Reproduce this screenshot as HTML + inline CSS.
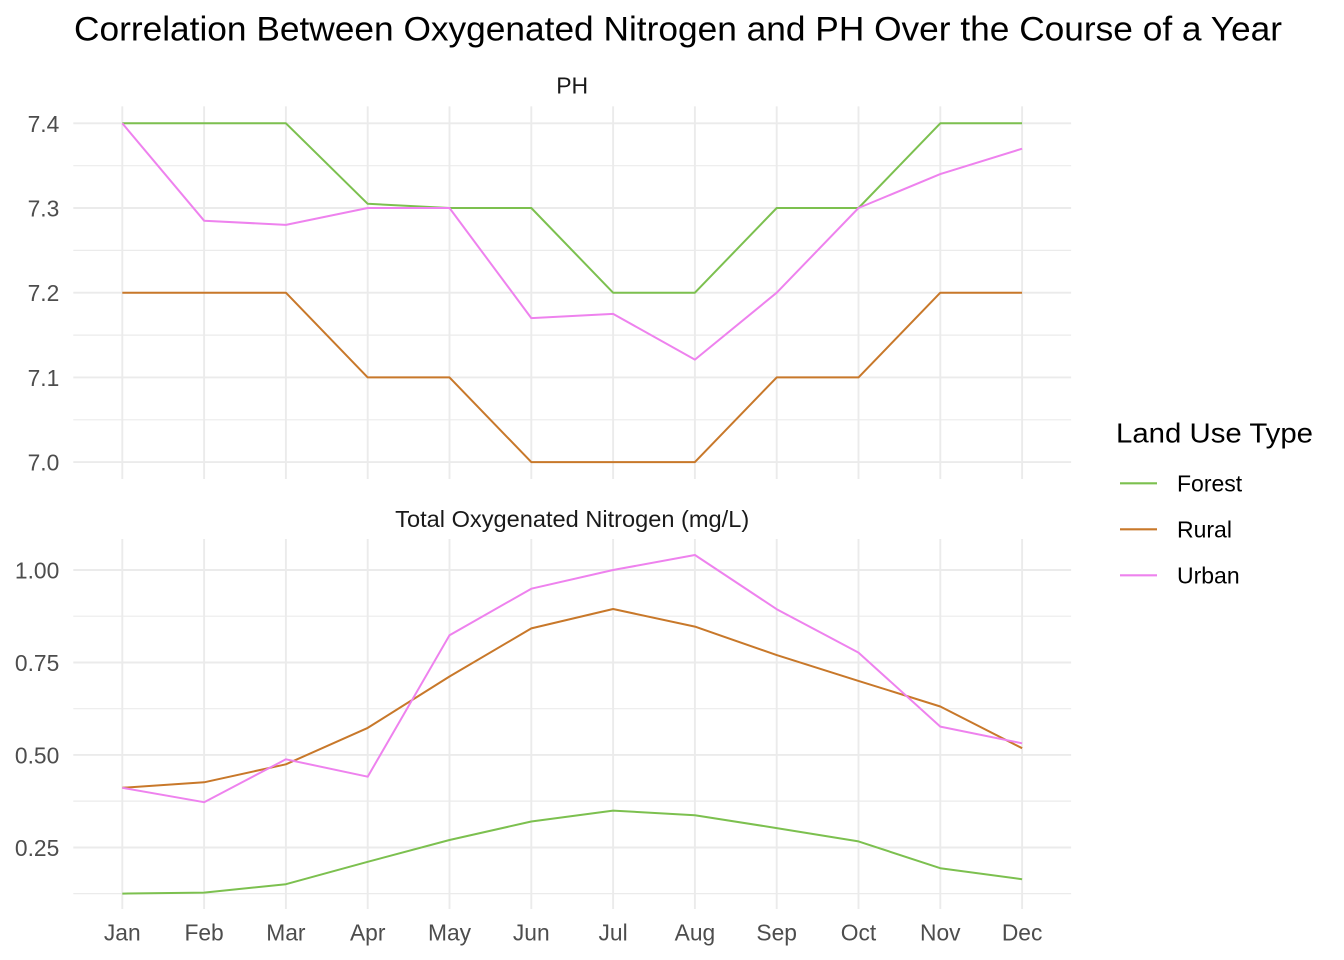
<!DOCTYPE html>
<html>
<head>
<meta charset="utf-8">
<style>
  html, body { margin: 0; padding: 0; background: #ffffff; }
  svg { display: block; }
  text { font-family: "Liberation Sans", Arial, Helvetica, sans-serif; }
</style>
</head>
<body>
<svg width="1344" height="960" viewBox="0 0 1344 960" xmlns="http://www.w3.org/2000/svg">
  <rect x="0" y="0" width="1344" height="960" fill="#ffffff"/>

  <!-- Title -->
  <text x="74" y="40.7" font-size="34" fill="#000000" textLength="1208" lengthAdjust="spacingAndGlyphs">Correlation Between Oxygenated Nitrogen and PH Over the Course of a Year</text>

  <!-- Strip labels -->
  <text x="572.2" y="93.3" font-size="23" fill="#1A1A1A" text-anchor="middle">PH</text>
  <text x="572.2" y="527" font-size="23" fill="#1A1A1A" text-anchor="middle" textLength="354" lengthAdjust="spacingAndGlyphs">Total Oxygenated Nitrogen (mg/L)</text>

  <!-- ===== Top panel grid ===== -->
  <g stroke="#EBEBEB" fill="none">
    <!-- minor -->
    <g stroke-width="1.2">
      <line x1="73.3" y1="165.7" x2="1071.1" y2="165.7"/>
      <line x1="73.3" y1="250.4" x2="1071.1" y2="250.4"/>
      <line x1="73.3" y1="335.1" x2="1071.1" y2="335.1"/>
      <line x1="73.3" y1="419.8" x2="1071.1" y2="419.8"/>
    </g>
    <!-- major -->
    <g stroke-width="1.9">
      <line x1="73.3" y1="123.3" x2="1071.1" y2="123.3"/>
      <line x1="73.3" y1="208" x2="1071.1" y2="208"/>
      <line x1="73.3" y1="292.7" x2="1071.1" y2="292.7"/>
      <line x1="73.3" y1="377.4" x2="1071.1" y2="377.4"/>
      <line x1="73.3" y1="462.1" x2="1071.1" y2="462.1"/>
      <line x1="122.3" y1="106.4" x2="122.3" y2="479"/>
      <line x1="204.1" y1="106.4" x2="204.1" y2="479"/>
      <line x1="285.9" y1="106.4" x2="285.9" y2="479"/>
      <line x1="367.7" y1="106.4" x2="367.7" y2="479"/>
      <line x1="449.5" y1="106.4" x2="449.5" y2="479"/>
      <line x1="531.3" y1="106.4" x2="531.3" y2="479"/>
      <line x1="613.1" y1="106.4" x2="613.1" y2="479"/>
      <line x1="694.9" y1="106.4" x2="694.9" y2="479"/>
      <line x1="776.7" y1="106.4" x2="776.7" y2="479"/>
      <line x1="858.5" y1="106.4" x2="858.5" y2="479"/>
      <line x1="940.3" y1="106.4" x2="940.3" y2="479"/>
      <line x1="1022.1" y1="106.4" x2="1022.1" y2="479"/>
    </g>
  </g>

  <!-- ===== Bottom panel grid ===== -->
  <g stroke="#EBEBEB" fill="none">
    <g stroke-width="1.2">
      <line x1="73.3" y1="616.2" x2="1071.1" y2="616.2"/>
      <line x1="73.3" y1="708.7" x2="1071.1" y2="708.7"/>
      <line x1="73.3" y1="801.1" x2="1071.1" y2="801.1"/>
      <line x1="73.3" y1="893.6" x2="1071.1" y2="893.6"/>
    </g>
    <g stroke-width="1.9">
      <line x1="73.3" y1="570" x2="1071.1" y2="570"/>
      <line x1="73.3" y1="662.5" x2="1071.1" y2="662.5"/>
      <line x1="73.3" y1="754.9" x2="1071.1" y2="754.9"/>
      <line x1="73.3" y1="847.5" x2="1071.1" y2="847.5"/>
      <line x1="122.3" y1="539" x2="122.3" y2="909"/>
      <line x1="204.1" y1="539" x2="204.1" y2="909"/>
      <line x1="285.9" y1="539" x2="285.9" y2="909"/>
      <line x1="367.7" y1="539" x2="367.7" y2="909"/>
      <line x1="449.5" y1="539" x2="449.5" y2="909"/>
      <line x1="531.3" y1="539" x2="531.3" y2="909"/>
      <line x1="613.1" y1="539" x2="613.1" y2="909"/>
      <line x1="694.9" y1="539" x2="694.9" y2="909"/>
      <line x1="776.7" y1="539" x2="776.7" y2="909"/>
      <line x1="858.5" y1="539" x2="858.5" y2="909"/>
      <line x1="940.3" y1="539" x2="940.3" y2="909"/>
      <line x1="1022.1" y1="539" x2="1022.1" y2="909"/>
    </g>
  </g>

  <!-- ===== Top panel series (PH) ===== -->
  <g fill="none" stroke-width="2" stroke-linejoin="round" stroke-linecap="butt">
    <polyline stroke="#7CC04F" points="122.3,123.3 204.1,123.3 285.9,123.3 367.7,203.8 449.5,208 531.3,208 613.1,292.7 694.9,292.7 776.7,208 858.5,208 940.3,123.3 1022.1,123.3"/>
    <polyline stroke="#C8782A" points="122.3,292.7 204.1,292.7 285.9,292.7 367.7,377.4 449.5,377.4 531.3,462.1 613.1,462.1 694.9,462.1 776.7,377.4 858.5,377.4 940.3,292.7 1022.1,292.7"/>
    <polyline stroke="#EE82EE" points="122.3,123.3 204.1,220.7 285.9,224.9 367.7,208 449.5,208 531.3,318.1 613.1,313.9 694.9,359.6 776.7,292.7 858.5,208 940.3,174.1 1022.1,148.7"/>
  </g>

  <!-- ===== Bottom panel series (Nitrogen) ===== -->
  <g fill="none" stroke-width="2" stroke-linejoin="round" stroke-linecap="butt">
    <polyline stroke="#7CC04F" points="122.3,893.6 204.1,892.6 285.9,884.2 367.7,861.8 449.5,840 531.3,821.5 613.1,810.6 694.9,815.2 776.7,828.1 858.5,841.4 940.3,868.2 1022.1,879.2"/>
    <polyline stroke="#C8782A" points="122.3,787.8 204.1,782.3 285.9,764.3 367.7,727.9 449.5,676.5 531.3,628.4 613.1,609 694.9,626.6 776.7,655.1 858.5,680.9 940.3,706.5 1022.1,748.2"/>
    <polyline stroke="#EE82EE" points="122.3,787.8 204.1,802.2 285.9,759.3 367.7,776.7 449.5,635.3 531.3,588.7 613.1,570 694.9,555 776.7,609.2 858.5,652.6 940.3,726.6 1022.1,743.3"/>
  </g>

  <!-- ===== Y axis labels ===== -->
  <g font-size="22.8" fill="#4D4D4D" text-anchor="end">
    <text x="59.3" y="131.8">7.4</text>
    <text x="59.3" y="216.5">7.3</text>
    <text x="59.3" y="301.2">7.2</text>
    <text x="59.3" y="385.9">7.1</text>
    <text x="59.3" y="470.6">7.0</text>

    <text x="59.3" y="578.5">1.00</text>
    <text x="59.3" y="671">0.75</text>
    <text x="59.3" y="763.4">0.50</text>
    <text x="59.3" y="856">0.25</text>
  </g>

  <!-- ===== X axis labels ===== -->
  <g font-size="22.8" fill="#4D4D4D" text-anchor="middle">
    <text x="122.3" y="940.7">Jan</text>
    <text x="204.1" y="940.7">Feb</text>
    <text x="285.9" y="940.7">Mar</text>
    <text x="367.7" y="940.7">Apr</text>
    <text x="449.5" y="940.7">May</text>
    <text x="531.3" y="940.7">Jun</text>
    <text x="613.1" y="940.7">Jul</text>
    <text x="694.9" y="940.7">Aug</text>
    <text x="776.7" y="940.7">Sep</text>
    <text x="858.5" y="940.7">Oct</text>
    <text x="940.3" y="940.7">Nov</text>
    <text x="1022.1" y="940.7">Dec</text>
  </g>

  <!-- ===== Legend ===== -->
  <text x="1116" y="442.7" font-size="28" fill="#000000" textLength="197" lengthAdjust="spacingAndGlyphs">Land Use Type</text>
  <g stroke-width="2.2">
    <line x1="1120" y1="483.3" x2="1157" y2="483.3" stroke="#7CC04F"/>
    <line x1="1120" y1="529.3" x2="1157" y2="529.3" stroke="#C8782A"/>
    <line x1="1120" y1="575.3" x2="1157" y2="575.3" stroke="#EE82EE"/>
  </g>
  <g font-size="23" fill="#000000">
    <text x="1177" y="491.7">Forest</text>
    <text x="1177" y="537.7">Rural</text>
    <text x="1177" y="583.7">Urban</text>
  </g>
</svg>
</body>
</html>
